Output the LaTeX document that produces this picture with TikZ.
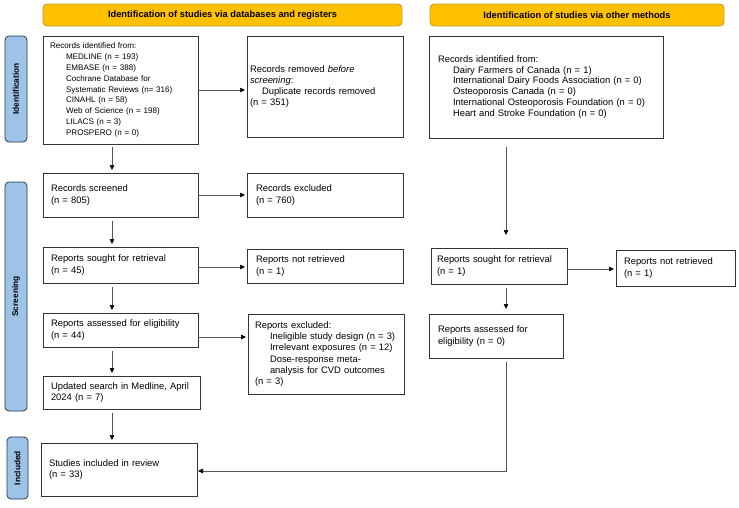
\documentclass[tikz,border=0pt]{standalone}
\usepackage{fontspec}
\setmainfont{Liberation Sans}
\usetikzlibrary{arrows.meta,calc}
\definecolor{hdrfill}{HTML}{FFC000}
\definecolor{hdrdraw}{HTML}{C89B1E}
\definecolor{sidefill}{HTML}{9DC3E6}
\definecolor{sidedraw}{HTML}{22364F}
\definecolor{boxdraw}{HTML}{333333}
\definecolor{arrline}{HTML}{555555}
\tikzset{
  bx/.style={draw=boxdraw, line width=0.8pt, anchor=north west, align=left, inner ysep=0pt, outer sep=0pt,
    font=\fontsize{9.4}{11.2}\selectfont},
  hdr/.style={draw=hdrdraw, fill=hdrfill, line width=0.8pt, rounded corners=4pt, anchor=north west, inner sep=0pt,
    outer sep=0pt, minimum height=22pt, font=\bfseries\fontsize{9.3}{11}\selectfont},
  side/.style={draw=sidedraw, fill=sidefill, line width=0.8pt, rounded corners=4pt, rotate=90, inner sep=0pt,
    minimum height=22pt, font=\bfseries\fontsize{8.3}{10}\selectfont},
  arr/.style={draw=arrline, line width=0.7pt, -{Triangle[length=5pt,width=4.5pt,black]}},
  ln/.style={draw=arrline, line width=0.7pt}
}
\begin{document}
\begin{tikzpicture}[x=1pt,y=-1pt]
\useasboundingbox (0,0) rectangle (739,507);
% headers
\node[hdr, minimum width=359pt] (h1) at (43,4) {Identification of studies via databases and registers};
\node[hdr, minimum width=294pt] (h2) at (430,4) {Identification of studies via other methods};
% side bars
\node[side, minimum width=106pt] (s1) at (16,89) {Identification};
\node[side, minimum width=229pt] (s2) at (16,296.5) {Screening};
\node[side, minimum width=62pt, minimum height=21pt] (s3) at (17.5,468) {Included};
% left column
\node[bx, font=\fontsize{8.1}{10.85}\selectfont, minimum width=155pt, minimum height=108pt, text width=141pt, inner xsep=7pt] (A) at (43,36)
  {Records identified from:\\
   \hspace*{16pt}MEDLINE (n = 193)\\
   \hspace*{16pt}EMBASE (n = 388)\\
   \hspace*{16pt}Cochrane Database for\\
   \hspace*{16pt}Systematic Reviews (n= 316)\\
   \hspace*{16pt}CINAHL (n = 58)\\
   \hspace*{16pt}Web of Science (n = 198)\\
   \hspace*{16pt}LILACS (n = 3)\\
   \hspace*{16pt}PROSPERO (n = 0)};
\node[bx, minimum width=156pt, minimum height=101pt, text width=150pt, inner xsep=3pt] (B) at (247,36)
  {Records removed \textit{before}\\
   \textit{screening}:\\
   \hspace*{12pt}Duplicate records removed\\
   (n = 351)\\[10pt]};
\node[bx, minimum width=155pt, minimum height=44pt, text width=139pt, inner xsep=8pt] (scr) at (43,173)
  {Records screened\\(n = 805)};
\node[bx, minimum width=156pt, minimum height=44pt, text width=138pt, inner xsep=9pt] (exc) at (247,173)
  {Records excluded\\(n = 760)};
\node[bx, minimum width=155pt, minimum height=36pt, text width=139pt, inner xsep=8pt] (sou) at (43,247)
  {Reports sought for retrieval\\(n = 45)};
\node[bx, minimum width=156pt, minimum height=34pt, text width=138pt, inner xsep=9pt] (nr) at (247,249)
  {Reports not retrieved\\(n = 1)};
\node[bx, minimum width=155pt, minimum height=34pt, text width=139pt, inner xsep=8pt] (ass) at (43,313)
  {Reports assessed for eligibility\\(n = 44)};
\node[bx, minimum width=156pt, minimum height=80pt, text width=142pt, inner xsep=7pt] (rex) at (248,314)
  {Reports excluded:\\
   \hspace*{15pt}Ineligible study design (n = 3)\\
   \hspace*{15pt}Irrelevant exposures (n = 12)\\
   \hspace*{15pt}Dose-response meta-\\
   \hspace*{15pt}analysis for CVD outcomes\\
   (n = 3)};
\node[bx, minimum width=157pt, minimum height=33pt, text width=141pt, inner xsep=8pt] (upd) at (43,376)
  {Updated search in Medline, April\\2024 (n = 7)};
\node[bx, minimum width=156pt, minimum height=53pt, text width=140pt, inner xsep=8pt] (inc) at (41,443)
  {Studies included in review\\(n = 33)};
% right column
\node[bx, font=\fontsize{9.4}{10.9}\selectfont, minimum width=234pt, minimum height=102pt, text width=216pt, inner xsep=9pt] (R1) at (429,36)
  {Records identified from:\\
   \hspace*{15pt}Dairy Farmers of Canada (n = 1)\\
   \hspace*{15pt}International Dairy Foods Association (n = 0)\\
   \hspace*{15pt}Osteoporosis Canada (n = 0)\\
   \hspace*{15pt}International Osteoporosis Foundation (n = 0)\\
   \hspace*{15pt}Heart and Stroke Foundation (n = 0)};
\node[bx, minimum width=136pt, minimum height=36pt, text width=124pt, inner xsep=6pt] (rsou) at (431,248)
  {Reports sought for retrieval\\(n = 1)};
\node[bx, minimum width=119pt, minimum height=36pt, text width=103pt, inner xsep=8pt] (rnr) at (616,250)
  {Reports not retrieved\\(n = 1)};
\node[bx, minimum width=134pt, minimum height=44pt, text width=116pt, inner xsep=9pt] (rass) at (429,314)
  {Reports assessed for\\eligibility (n = 0)};
% helper coordinates
\coordinate (lc) at (112,0);
\coordinate (rc) at (506,0);
\coordinate (corner) at (506,471);
\coordinate (souE) at ([yshift=-2pt]sou.east);
\coordinate (rsouE) at ([yshift=-3pt]rsou.east);
\coordinate (assE) at ([yshift=-7pt]ass.east);
% horizontal arrows
\draw[arr, shorten >=2pt] (A.east) -- (B.west |- A.east);
\draw[arr, shorten >=2pt] (scr.east) -- (exc.west |- scr.east);
\draw[arr, shorten >=2pt] (souE) -- (nr.west |- souE);
\draw[arr, shorten >=2pt] (rsouE) -- (rnr.west |- rsouE);
\draw[arr, shorten >=2pt] (assE) -- (rex.west |- assE);
% vertical arrows, left
\draw[arr, shorten <=3pt, shorten >=3pt] (A.south -| lc) -- (scr.north -| lc);
\draw[arr, shorten <=4pt, shorten >=3pt] (scr.south -| lc) -- (sou.north -| lc);
\draw[arr, shorten <=4pt, shorten >=3pt] (sou.south -| lc) -- (ass.north -| lc);
\draw[arr, shorten <=4pt, shorten >=3pt] (ass.south -| lc) -- (upd.north -| lc);
\draw[arr, shorten <=4pt, shorten >=3pt] (upd.south -| lc) -- (inc.north -| lc);
% vertical arrows, right
\draw[arr, shorten <=9pt, shorten >=13pt] (R1.south -| rc) -- (rsou.north -| rc);
\draw[arr, shorten <=4pt, shorten >=5pt] (rsou.south -| rc) -- (rass.north -| rc);
\draw[arr, shorten <=4pt, shorten >=1pt] (rass.south -| rc) -- (corner) -- (inc.east |- corner);
\end{tikzpicture}
\end{document}
